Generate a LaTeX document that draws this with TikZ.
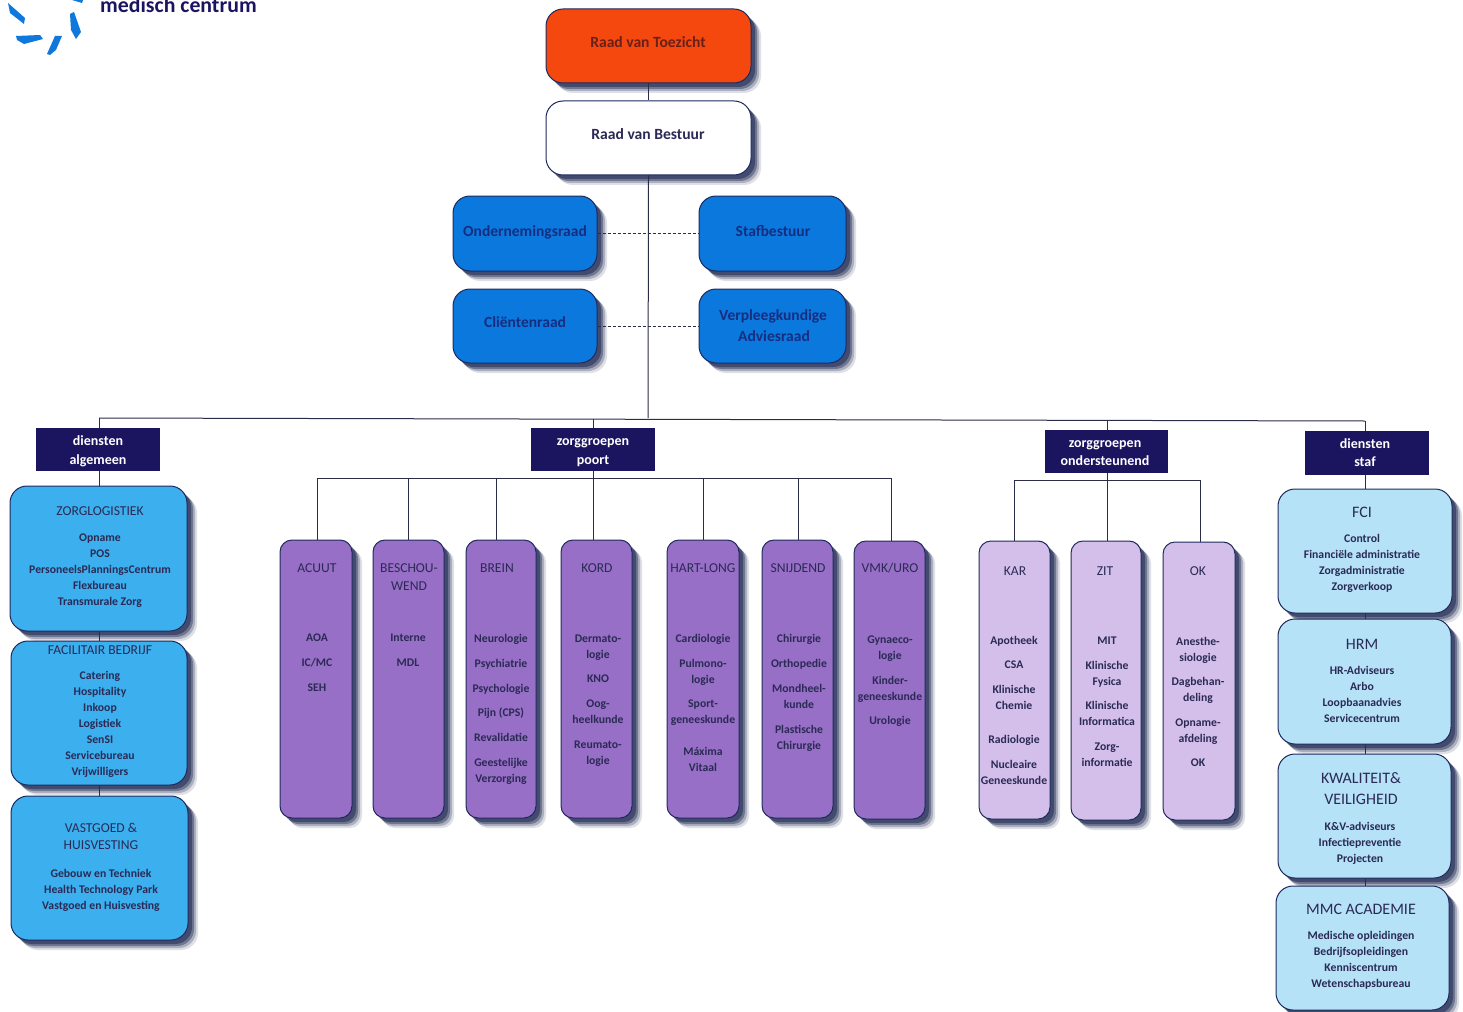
\documentclass[tikz,border=0pt]{standalone}
\usepackage{fontspec}
\setmainfont{Carlito}
\usetikzlibrary{shadows,calc}
\definecolor{navy}{HTML}{1B1560}
\definecolor{edgeC}{HTML}{1E2A5C}
\definecolor{lineC}{HTML}{2A2C48}
\definecolor{shadeC}{HTML}{15204A}
\definecolor{inkC}{HTML}{2A2A55}
\definecolor{redinkC}{HTML}{6A2018}
\definecolor{orangeC}{HTML}{F4480F}
\definecolor{blueC}{HTML}{0B78DE}
\definecolor{skyC}{HTML}{3CAFEE}
\definecolor{paleC}{HTML}{B6E2F8}
\definecolor{purpC}{HTML}{986FC6}
\definecolor{lilacC}{HTML}{D4BFEB}
\definecolor{logoC}{HTML}{0F78DC}
\tikzset{
  softshadow/.style={
    general shadow={shadow xshift=10pt,shadow yshift=-10pt,fill=shadeC,opacity=.14},
    general shadow={shadow xshift=8pt,shadow yshift=-8pt,fill=shadeC,opacity=.25},
    general shadow={shadow xshift=6pt,shadow yshift=-6pt,fill=shadeC,opacity=.40},
    general shadow={shadow xshift=4pt,shadow yshift=-4pt,fill=shadeC,opacity=.50}},
  boxbase/.style={draw=edgeC,line width=1pt,inner sep=0pt,softshadow},
  bigbox/.style={boxbase,rounded corners=17pt},
  colbox/.style={boxbase,rounded corners=12pt},
  hdrbox/.style={fill=navy,inner sep=0pt},
  link/.style={draw=lineC,line width=1pt},
  dashlink/.style={draw=lineC,line width=1pt,dash pattern=on 3pt off 2pt},
  itemtxt/.style={text=inkC,font=\fontsize{11.7}{14}\selectfont\bfseries,inner sep=0pt,text height=8pt,text depth=3pt},
  titletxt/.style={text=inkC,font=\fontsize{13.6}{16}\selectfont,inner sep=0pt,text height=9pt,text depth=3pt},
  largetxt/.style={text=inkC,font=\fontsize{16}{19}\selectfont,inner sep=0pt,text height=11pt,text depth=3pt},
  toptxt/.style={text=inkC,font=\fontsize{15.6}{19}\selectfont\bfseries,inner sep=0pt,text height=11pt,text depth=3pt},
  redtxt/.style={toptxt,text=redinkC},
  bluetxt/.style={text=navy!75!blueC,font=\fontsize{15.5}{19}\selectfont\bfseries,inner sep=0pt,text height=11pt,text depth=3pt},
  hdrtxt/.style={text=white,font=\fontsize{14}{16}\selectfont\bfseries,inner sep=0pt,text height=9pt,text depth=3pt},
}
\newcounter{lblc}
\newcommand{\lbl}[4][itemtxt]{\stepcounter{lblc}\node[#1,yshift=-1.5pt] (lbl\thelblc) at (#2,#3) {#4};}
\newcommand{\rb}[6]{%
  \pgfmathsetmacro{\bw}{#4-#2}\pgfmathsetmacro{\bh}{#5-#3}%
  \pgfmathsetmacro{\bx}{(#4+#2)/2}\pgfmathsetmacro{\by}{(#5+#3)/2}%
  \node[#6,minimum width=\bw pt,minimum height=\bh pt] (#1) at (\bx,\by) {};}
\begin{document}
\begin{tikzpicture}[x=1pt,y=-1pt]
\useasboundingbox (0,0) rectangle (1463,1011);
\clip (0,0) rectangle (1463,1011);
% logo
\fill[logoC] (8,3)--(25,18)--(24,24)--(10,13)--cycle;
\fill[logoC] (16,36)--(40,35)--(43,39)--(24,44)--(17,40)--cycle;
\fill[logoC] (47,54)--(55,36)--(62,36)--(56,50)--(50,55)--cycle;
\fill[logoC] (70,14)--(74,12)--(81,32)--(76,39)--(71,30)--cycle;
\fill[logoC] (72,0)--(83,0)--(82,3)--cycle;
\node[anchor=base west,inner sep=0pt,text=navy,font=\fontsize{21.8}{24}\selectfont\bfseries] (logotext) at (100,13) {medisch centrum};

% top boxes
\rb{toezicht}{546}{9}{751}{83}{bigbox,fill=orangeC}
\rb{bestuur}{546}{101}{751}{175}{bigbox,fill=white}
\rb{or}{453}{196}{597}{271}{bigbox,fill=blueC}
\rb{staf}{699}{196}{846}{271}{bigbox,fill=blueC}
\rb{client}{453}{289}{597}{363}{bigbox,fill=blueC}
\rb{var}{699}{289}{846}{363}{bigbox,fill=blueC}

% headers
\rb{hA}{36}{428}{160}{471}{hdrbox}
\rb{hP}{531}{428}{655}{471}{hdrbox}
\rb{hO}{1045}{430}{1168}{473}{hdrbox}
\rb{hS}{1305}{431}{1429}{475}{hdrbox}

% left column
\rb{zl}{10}{486}{187}{631}{bigbox,fill=skyC}
\rb{fb}{11}{641}{187}{785}{bigbox,fill=skyC}
\rb{vg}{11}{796}{188}{940}{bigbox,fill=skyC}
% right column
\rb{fci}{1278}{489}{1452}{613}{bigbox,fill=paleC}
\rb{hrm}{1278}{619}{1451}{744}{bigbox,fill=paleC}
\rb{kv}{1278}{754}{1451}{878}{bigbox,fill=paleC}
\rb{mmc}{1276}{886}{1449}{1010}{bigbox,fill=paleC}
% purple columns
\rb{acuut}{280}{540}{352}{818}{colbox,fill=purpC}
\rb{besch}{373}{540}{444}{818}{colbox,fill=purpC}
\rb{brein}{466}{540}{536}{818}{colbox,fill=purpC}
\rb{kord}{561}{540}{632}{818}{colbox,fill=purpC}
\rb{hart}{667}{540}{739}{818}{colbox,fill=purpC}
\rb{snij}{762}{540}{833}{818}{colbox,fill=purpC}
\rb{vmk}{854}{541}{925}{819}{colbox,fill=purpC}
% lilac columns
\rb{kar}{979}{541}{1050}{819}{colbox,fill=lilacC}
\rb{zit}{1071}{541}{1141}{820}{colbox,fill=lilacC}
\rb{ok}{1163}{542}{1235}{820}{colbox,fill=lilacC}

% connectors
\coordinate (trunk) at (648,418);
\coordinate (busL) at (99,418);
\coordinate (busR) at (1365,421);
\coordinate (busA) at (593,419);
\coordinate (busB) at (1107,420);
\draw[link] (toezicht.south) -- (bestuur.north);
\draw[link] (bestuur.south) -- (trunk);
\draw[link] (busL) -- (busR);
\draw[link] (busL) -- (busL |- hA.north);
\draw[link] (busA) -- (busA |- hP.north);
\draw[link] (busB) -- (busB |- hO.north);
\draw[link] (busR) -- (busR |- hS.north);
\draw[dashlink] (or.east) -- (staf.west);
\draw[dashlink] (client.east) -- (var.west);
% left and right stacks
\draw[link] (hA.south -| busL) -- (zl.north -| busL);
\draw[link] (zl.south -| busL) -- (fb.north -| busL);
\draw[link] (fb.south -| busL) -- (vg.north -| busL);
\draw[link] (hS.south -| busR) -- (fci.north -| busR);
\draw[link] (fci.south -| busR) -- (hrm.north -| busR);
\draw[link] (hrm.south -| busR) -- (kv.north -| busR);
\draw[link] (kv.south -| busR) -- (mmc.north -| busR);
% purple bus
\coordinate (pb1) at (317,478);
\coordinate (pb2) at (408,478);
\coordinate (pb3) at (496,478);
\coordinate (pb4) at (593,478);
\coordinate (pb5) at (703,478);
\coordinate (pb6) at (798,478);
\coordinate (pb7) at (891,478);
\draw[link] (pb1) -- (pb7);
\draw[link] (hP.south -| pb4) -- (kord.north -| pb4);
\draw[link] (pb1) -- (acuut.north -| pb1);
\draw[link] (pb2) -- (besch.north -| pb2);
\draw[link] (pb3) -- (brein.north -| pb3);
\draw[link] (pb5) -- (hart.north -| pb5);
\draw[link] (pb6) -- (snij.north -| pb6);
\draw[link] (pb7) -- (vmk.north -| pb7);
% lilac bus
\coordinate (lb1) at (1014,480);
\coordinate (lb2) at (1107,480);
\coordinate (lb3) at (1200,480);
\draw[link] (lb1) -- (lb3);
\draw[link] (hO.south -| lb2) -- (zit.north -| lb2);
\draw[link] (lb1) -- (kar.north -| lb1);
\draw[link] (lb3) -- (ok.north -| lb3);

% top labels
\lbl[redtxt]{648}{42}{Raad van Toezicht}
\lbl[toptxt]{648}{134}{Raad van Bestuur}
\lbl[bluetxt]{525}{231}{Ondernemingsraad}
\lbl[bluetxt]{773}{231}{Stafbestuur}
\lbl[bluetxt]{525}{322}{Cliëntenraad}
\lbl[bluetxt]{773}{315}{Verpleegkundige}
\lbl[bluetxt]{774}{336}{Adviesraad}
% header labels
\lbl[hdrtxt]{98}{441}{diensten}
\lbl[hdrtxt]{98}{460}{algemeen}
\lbl[hdrtxt]{593}{441}{zorggroepen}
\lbl[hdrtxt]{593}{460}{poort}
\lbl[hdrtxt]{1105}{443}{zorggroepen}
\lbl[hdrtxt]{1105}{461}{ondersteunend}
\lbl[hdrtxt]{1365}{444}{diensten}
\lbl[hdrtxt]{1365}{462}{staf}
% left column labels
\lbl[titletxt]{100}{511}{ZORGLOGISTIEK}
\lbl{100}{537}{Opname}
\lbl{100}{553}{POS}
\lbl{100}{569}{PersoneelsPlanningsCentrum}
\lbl{100}{585}{Flexbureau}
\lbl{100}{601}{Transmurale Zorg}
\lbl[titletxt]{100}{650}{FACILITAIR BEDRIJF}
\lbl{100}{675}{Catering}
\lbl{100}{691}{Hospitality}
\lbl{100}{707}{Inkoop}
\lbl{100}{723}{Logistiek}
\lbl{100}{739}{SenSI}
\lbl{100}{755}{Servicebureau}
\lbl{100}{771}{Vrijwilligers}
\lbl[titletxt]{101}{828}{VASTGOED \&}
\lbl[titletxt]{101}{845}{HUISVESTING}
\lbl{101}{873}{Gebouw en Techniek}
\lbl{101}{889}{Health Technology Park}
\lbl{101}{905}{Vastgoed en Huisvesting}
% right column labels
\lbl[largetxt]{1362}{512}{FCI}
\lbl{1362}{538}{Control}
\lbl{1362}{554}{Financiële administratie}
\lbl{1362}{570}{Zorgadministratie}
\lbl{1362}{586}{Zorgverkoop}
\lbl[largetxt]{1362}{644}{HRM}
\lbl{1362}{670}{HR-Adviseurs}
\lbl{1362}{686}{Arbo}
\lbl{1362}{702}{Loopbaanadvies}
\lbl{1362}{718}{Servicecentrum}
\lbl[largetxt]{1361}{778}{KWALITEIT\&}
\lbl[largetxt]{1361}{799}{VEILIGHEID}
\lbl{1360}{826}{K\&V-adviseurs}
\lbl{1360}{842}{Infectiepreventie}
\lbl{1360}{858}{Projecten}
\lbl[largetxt]{1361}{909}{MMC ACADEMIE}
\lbl{1361}{935}{Medische opleidingen}
\lbl{1361}{951}{Bedrijfsopleidingen}
\lbl{1361}{967}{Kenniscentrum}
\lbl{1361}{983}{Wetenschapsbureau}
% purple labels
\lbl[titletxt]{317}{568}{ACUUT}
\lbl{317}{637}{AOA}
\lbl{317}{662}{IC/MC}
\lbl{317}{687}{SEH}
\lbl[titletxt]{409}{568}{BESCHOU-}
\lbl[titletxt]{409}{586}{WEND}
\lbl{408}{637}{Interne}
\lbl{408}{662}{MDL}
\lbl[titletxt]{497}{568}{BREIN}
\lbl{501}{638}{Neurologie}
\lbl{501}{663}{Psychiatrie}
\lbl{501}{688}{Psychologie}
\lbl{501}{712}{Pijn (CPS)}
\lbl{501}{737}{Revalidatie}
\lbl{501}{762}{Geestelijke}
\lbl{501}{778}{Verzorging}
\lbl[titletxt]{597}{568}{KORD}
\lbl{598}{638}{Dermato-}
\lbl{598}{654}{logie}
\lbl{598}{678}{KNO}
\lbl{598}{703}{Oog-}
\lbl{598}{719}{heelkunde}
\lbl{598}{744}{Reumato-}
\lbl{598}{760}{logie}
\lbl[titletxt]{703}{568}{HART-LONG}
\lbl{703}{638}{Cardiologie}
\lbl{703}{663}{Pulmono-}
\lbl{703}{679}{logie}
\lbl{703}{703}{Sport-}
\lbl{703}{719}{geneeskunde}
\lbl{703}{751}{Máxima}
\lbl{703}{767}{Vitaal}
\lbl[titletxt]{798}{568}{SNIJDEND}
\lbl{799}{638}{Chirurgie}
\lbl{799}{663}{Orthopedie}
\lbl{799}{688}{Mondheel-}
\lbl{799}{704}{kunde}
\lbl{799}{729}{Plastische}
\lbl{799}{745}{Chirurgie}
\lbl[titletxt]{890}{568}{VMK/URO}
\lbl{890}{639}{Gynaeco-}
\lbl{890}{655}{logie}
\lbl{890}{680}{Kinder-}
\lbl{890}{696}{geneeskunde}
\lbl{890}{720}{Urologie}
% lilac labels
\lbl[titletxt]{1015}{571}{KAR}
\lbl{1014}{640}{Apotheek}
\lbl{1014}{664}{CSA}
\lbl{1014}{689}{Klinische}
\lbl{1014}{705}{Chemie}
\lbl{1014}{739}{Radiologie}
\lbl{1014}{764}{Nucleaire}
\lbl{1014}{780}{Geneeskunde}
\lbl[titletxt]{1105}{571}{ZIT}
\lbl{1107}{640}{MIT}
\lbl{1107}{665}{Klinische}
\lbl{1107}{681}{Fysica}
\lbl{1107}{705}{Klinische}
\lbl{1107}{721}{Informatica}
\lbl{1107}{746}{Zorg-}
\lbl{1107}{762}{informatie}
\lbl[titletxt]{1198}{571}{OK}
\lbl{1198}{641}{Anesthe-}
\lbl{1198}{657}{siologie}
\lbl{1198}{681}{Dagbehan-}
\lbl{1198}{697}{deling}
\lbl{1198}{722}{Opname-}
\lbl{1198}{738}{afdeling}
\lbl{1198}{762}{OK}
\end{tikzpicture}
\end{document}
